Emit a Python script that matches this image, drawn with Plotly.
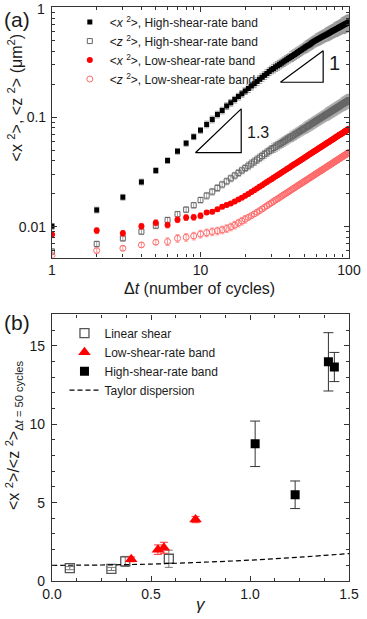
import plotly.graph_objects as go

# ---------------------------------------------------------------------
# Panel (a): mean square displacement vs lag time
# ---------------------------------------------------------------------
dt = list(range(1, 101))

high_x2 = [0.0101, 0.0142, 0.0186, 0.0256, 0.0325, 0.0401, 0.0488, 0.0577, 0.0662, 0.0757,
           0.0858, 0.0953, 0.1057, 0.115, 0.126, 0.1353, 0.1446, 0.154, 0.1634, 0.1729,
           0.1824, 0.192, 0.2016, 0.2113, 0.221, 0.2307, 0.2405, 0.2503, 0.2602, 0.2701,
           0.2782, 0.2863, 0.2943, 0.3023, 0.3103, 0.3183, 0.3262, 0.3341, 0.342, 0.3499,
           0.3578, 0.3656, 0.3735, 0.3813, 0.389, 0.3968, 0.4046, 0.4123, 0.42, 0.4277,
           0.4355, 0.4431, 0.4508, 0.4584, 0.466, 0.4737, 0.4812, 0.4888, 0.4964, 0.5039,
           0.5102, 0.5164, 0.5227, 0.5289, 0.5351, 0.5412, 0.5474, 0.5535, 0.5596, 0.5657,
           0.5717, 0.5777, 0.5838, 0.5897, 0.5957, 0.6017, 0.6076, 0.6135, 0.6193, 0.6252,
           0.6311, 0.6369, 0.6428, 0.6486, 0.6543, 0.6601, 0.6659, 0.6715, 0.6773, 0.683,
           0.6887, 0.6943, 0.7, 0.7056, 0.7112, 0.7168, 0.7224, 0.728, 0.7336, 0.7391]

high_z2 = [0.00593, 0.00695, 0.00783, 0.00901, 0.0102, 0.0115, 0.013, 0.0143, 0.0157, 0.0175,
           0.01919, 0.02088, 0.02257, 0.02426, 0.02593, 0.02761, 0.02928, 0.03095, 0.03262, 0.03428,
           0.03594, 0.0376, 0.03925, 0.04091, 0.04256, 0.04421, 0.04587, 0.04751, 0.04916, 0.0508,
           0.05225, 0.0537, 0.05514, 0.05658, 0.058, 0.05943, 0.06084, 0.06225, 0.06366, 0.06506,
           0.06646, 0.06785, 0.06924, 0.07062, 0.072, 0.07337, 0.07474, 0.07611, 0.07747, 0.07883,
           0.08018, 0.08152, 0.08287, 0.08422, 0.08555, 0.08689, 0.08822, 0.08955, 0.09088, 0.09221,
           0.09353, 0.09484, 0.09615, 0.09746, 0.09878, 0.10008, 0.10138, 0.10268, 0.10398, 0.10528,
           0.10656, 0.10785, 0.10913, 0.11042, 0.11171, 0.11299, 0.11426, 0.11553, 0.11681, 0.11808,
           0.11935, 0.12061, 0.12187, 0.12315, 0.12441, 0.12566, 0.12693, 0.12819, 0.12945, 0.13067,
           0.13192, 0.13317, 0.13441, 0.13566, 0.1369, 0.13813, 0.13935, 0.1406, 0.14184, 0.14306]

low_x2 = [0.00846, 0.0092, 0.00869, 0.0101, 0.01087, 0.01036, 0.01158, 0.0121, 0.0122, 0.0126,
          0.0135, 0.0137, 0.0144, 0.0152, 0.0158, 0.0163, 0.017, 0.0177, 0.0184, 0.0191,
          0.0199, 0.0207, 0.0215, 0.0223, 0.0231, 0.02391, 0.02472, 0.02552, 0.02632, 0.02712,
          0.02791, 0.0287, 0.02949, 0.03028, 0.03106, 0.03184, 0.03262, 0.03339, 0.03416, 0.03493,
          0.0357, 0.03647, 0.03723, 0.03799, 0.03875, 0.0395, 0.04026, 0.04101, 0.04176, 0.04251,
          0.04326, 0.044, 0.04475, 0.04549, 0.04623, 0.04697, 0.04771, 0.04844, 0.04918, 0.04991,
          0.05064, 0.05137, 0.0521, 0.05283, 0.05355, 0.05428, 0.055, 0.05572, 0.05644, 0.05716,
          0.05788, 0.0586, 0.05931, 0.06002, 0.06074, 0.06146, 0.06216, 0.06287, 0.06358, 0.06429,
          0.065, 0.0657, 0.0664, 0.06711, 0.06781, 0.06851, 0.06922, 0.06991, 0.07061, 0.07131,
          0.07201, 0.07271, 0.0734, 0.07409, 0.07478, 0.07548, 0.07617, 0.07686, 0.07755, 0.07823]

low_z2 = [0.00545, 0.00605, 0.00635, 0.00681, 0.00721, 0.00731, 0.00783, 0.008, 0.00822, 0.00857,
          0.0088, 0.009, 0.00915, 0.00935, 0.00962, 0.00995, 0.01035, 0.0108, 0.01125, 0.0117,
          0.01215, 0.0126, 0.01305, 0.01352, 0.014, 0.0145, 0.015, 0.0155, 0.016, 0.0165,
          0.01698, 0.01746, 0.01794, 0.01842, 0.0189, 0.01937, 0.01985, 0.02031, 0.02078, 0.02125,
          0.02172, 0.02219, 0.02265, 0.02311, 0.02358, 0.02403, 0.02449, 0.02495, 0.02541, 0.02586,
          0.02632, 0.02677, 0.02723, 0.02768, 0.02813, 0.02858, 0.02903, 0.02947, 0.02992, 0.03037,
          0.03081, 0.03125, 0.0317, 0.03214, 0.03258, 0.03302, 0.03346, 0.0339, 0.03434, 0.03478,
          0.03521, 0.03565, 0.03608, 0.03652, 0.03695, 0.03739, 0.03782, 0.03825, 0.03868, 0.03911,
          0.03955, 0.03997, 0.0404, 0.04083, 0.04126, 0.04168, 0.04211, 0.04253, 0.04296, 0.04339,
          0.04381, 0.04424, 0.04466, 0.04508, 0.0455, 0.04592, 0.04634, 0.04676, 0.04718, 0.0476]

# error bars, in percent of the value, per decade of points
high_x2_err_pct = [6] * 10 + [7] * 10 + [8] * 10 + [9] * 10 + [10] * 10 + [11] * 10 + [12] * 10 + [13] * 10 + [14] * 10 + [16] * 10
high_z2_err_pct = [6] * 10 + [7] * 10 + [8] * 10 + [9] * 10 + [10] * 10 + [11] * 20 + [12] * 20 + [13] * 10
low_x2_err_pct = [6] * 10 + [4] * 90
low_z2_err_pct = [5] * 5 + [8] * 15 + [5] * 80

# slope guide triangles (Δt, value)
slope1_x = [34.5, 67.0, 67.0, 34.5]
slope1_y = [0.208, 0.208, 0.404, 0.208]
slope13_x = [9.24, 18.8, 18.8, 9.24]
slope13_y = [0.0473, 0.0473, 0.119, 0.0473]

# ---------------------------------------------------------------------
# Panel (b): ratio <x²>/<z²> at Δt = 50 cycles vs strain amplitude
# ---------------------------------------------------------------------
linear_gamma = [0.09, 0.30, 0.37, 0.59]
linear_ratio = [0.82, 0.77, 1.25, 1.42]
linear_err = [0.1, 0.1, 0.32, 0.55]

low_gamma = [0.40, 0.535, 0.565, 0.725]
low_ratio = [1.38, 2.0, 2.12, 3.92]
low_err = [0.15, 0.3, 0.35, 0.2]

high_gamma = [1.026, 1.228, 1.396, 1.426]
high_ratio = [8.75, 5.5, 13.98, 13.65]
high_err = [1.45, 0.88, 1.86, 0.93]

taylor_gamma = [0.0, 0.25, 0.5, 0.75, 1.0, 1.25, 1.5]
taylor_ratio = [1.0, 1.02, 1.08, 1.19, 1.33, 1.52, 1.75]


def pct_err(values, pct):
    return [v * p / 100 for v, p in zip(values, pct)]


FONT = "Liberation Sans, Arial, sans-serif"
TXT = "#1a1a1a"

fig = go.Figure()

# ---------------------------------------------------------------------
# Panel (a) traces
# ---------------------------------------------------------------------
fig.add_trace(go.Scatter(
    x=dt, y=high_x2, mode="markers", xaxis="x", yaxis="y", legend="legend",
    name="&lt;<i>x</i> <sup>2</sup>&gt;, High-shear-rate band",
    marker=dict(symbol="square", size=5, color="black"),
    error_y=dict(type="data", array=pct_err(high_x2, high_x2_err_pct),
                 color="#9a9a9a", thickness=1, width=2.5)))
fig.add_trace(go.Scatter(
    x=dt, y=high_z2, mode="markers", xaxis="x", yaxis="y", legend="legend",
    name="&lt;<i>z</i> <sup>2</sup>&gt;, High-shear-rate band",
    marker=dict(symbol="square-open", size=5, color="#666666", line=dict(width=1)),
    error_y=dict(type="data", array=pct_err(high_z2, high_z2_err_pct),
                 color="#a8a8a8", thickness=1, width=2.5)))
fig.add_trace(go.Scatter(
    x=dt, y=low_x2, mode="markers", xaxis="x", yaxis="y", legend="legend",
    name="&lt;<i>x</i> <sup>2</sup>&gt;, Low-shear-rate band",
    marker=dict(symbol="circle", size=6, color="#ff0000"),
    error_y=dict(type="data", array=pct_err(low_x2, low_x2_err_pct),
                 color="#ff5050", thickness=1, width=2)))
fig.add_trace(go.Scatter(
    x=dt, y=low_z2, mode="markers", xaxis="x", yaxis="y", legend="legend",
    name="&lt;<i>z</i> <sup>2</sup>&gt;, Low-shear-rate band",
    marker=dict(symbol="circle-open", size=6, color="#ff6a6a", line=dict(width=1)),
    error_y=dict(type="data", array=pct_err(low_z2, low_z2_err_pct),
                 color="#ff9a9a", thickness=1, width=2)))

for tx, ty in [(slope1_x, slope1_y), (slope13_x, slope13_y)]:
    fig.add_trace(go.Scatter(x=tx, y=ty, mode="lines", xaxis="x", yaxis="y",
                             line=dict(color="black", width=1.2),
                             showlegend=False, hoverinfo="skip"))

# ---------------------------------------------------------------------
# Panel (b) traces
# ---------------------------------------------------------------------
fig.add_trace(go.Scatter(
    x=linear_gamma, y=linear_ratio, mode="markers", xaxis="x2", yaxis="y2", legend="legend2",
    name="Linear shear",
    marker=dict(symbol="square-open", size=9, color="#555555", line=dict(width=1.3)),
    error_y=dict(type="data", array=linear_err, color="#777777", thickness=1, width=4)))
fig.add_trace(go.Scatter(
    x=low_gamma, y=low_ratio, mode="markers", xaxis="x2", yaxis="y2", legend="legend2",
    name="Low-shear-rate band",
    marker=dict(symbol="triangle-up", size=11, color="#ff0000"),
    error_y=dict(type="data", array=low_err, color="#ff3030", thickness=1, width=4)))
fig.add_trace(go.Scatter(
    x=high_gamma, y=high_ratio, mode="markers", xaxis="x2", yaxis="y2", legend="legend2",
    name="High-shear-rate band",
    marker=dict(symbol="square", size=9, color="black"),
    error_y=dict(type="data", array=high_err, color="#333333", thickness=1, width=5)))
fig.add_trace(go.Scatter(
    x=taylor_gamma, y=taylor_ratio, mode="lines", xaxis="x2", yaxis="y2", legend="legend2",
    name="Taylor dispersion", line=dict(color="black", width=1.2, dash="5px,3px", shape="spline")))

# ---------------------------------------------------------------------
# Layout
# ---------------------------------------------------------------------
axis_style = dict(showline=True, linecolor="#333333", linewidth=1.2, mirror="allticks",
                  ticks="inside", ticklen=5, tickcolor="#333333", showgrid=False,
                  zeroline=False, tickfont=dict(size=14, color=TXT, family=FONT))

fig.update_layout(
    width=367, height=619,
    margin=dict(l=52, r=12, t=6, b=38),
    paper_bgcolor="white", plot_bgcolor="white",
    font=dict(family=FONT, color=TXT),
    xaxis=dict(axis_style, type="log", range=[0, 2], dtick=1, anchor="y",
               minor=dict(ticks="inside", ticklen=3, dtick="D1", tickcolor="#333333")),
    yaxis=dict(axis_style, type="log", range=[-2.282, 0.005], dtick=1, domain=[0.5635, 1], anchor="x",
               ticklabelstandoff=2,
               minor=dict(ticks="inside", ticklen=3, dtick="D1", tickcolor="#333333")),
    xaxis2=dict(axis_style, range=[0, 1.5], dtick=0.5, tickformat=".1f", anchor="y2",
                minor=dict(ticks="inside", ticklen=3, dtick=0.125, tickcolor="#333333")),
    yaxis2=dict(axis_style, range=[0, 17], dtick=5, domain=[0, 0.4643], anchor="x2",
                ticklabelstandoff=3,
                minor=dict(ticks="inside", ticklen=3, dtick=1, tickcolor="#333333")),
    legend=dict(x=0.06, y=0.999, xanchor="left", yanchor="top", bgcolor="rgba(0,0,0,0)",
                font=dict(size=12, family=FONT, color=TXT), itemwidth=30),
    legend2=dict(x=0.042, y=0.457, xanchor="left", yanchor="top", bgcolor="rgba(0,0,0,0)",
                 font=dict(size=12, family=FONT, color=TXT), itemwidth=30),
    showlegend=True,
)

annotations = [
    dict(text="(a)", x=-0.118, y=0.979, font=dict(size=21)),
    dict(text="(b)", x=-0.118, y=0.4504, font=dict(size=21)),
    # top tick label of panel (a), kept inside the page edge
    dict(text="1", x=-0.016, y=0.9957, xanchor="right", font=dict(size=14)),
    dict(text="&lt;x <sup>2</sup>&gt;, &lt;z <sup>2</sup>&gt; (μm<sup>2</sup>)",
         x=-0.1254, y=0.842, textangle=-90, font=dict(size=16)),
    dict(text="Δ<i>t</i> (number of cycles)", x=0.495, y=0.5096, font=dict(size=16)),
    dict(text="&lt;x <sup>2</sup>&gt;/&lt;z <sup>2</sup>&gt;<sub>Δ<i>t</i> = 50 cycles</sub>",
         x=-0.1287, y=0.254, textangle=-90, font=dict(size=16)),
    dict(text="<i>γ</i>", x=0.5, y=-0.0417, font=dict(size=17)),
]
for a in annotations:
    a.setdefault("xanchor", "center")
    fig.add_annotation(xref="paper", yref="paper", showarrow=False,
                       yanchor="middle", **a)

# slope labels, placed in log10 data units of panel (a)
fig.add_annotation(xref="x", yref="y", x=1.901, y=-0.509, text="1", showarrow=False,
                   font=dict(size=20))
fig.add_annotation(xref="x", yref="y", x=1.386, y=-1.136, text="1.3", showarrow=False,
                   font=dict(size=16))

# the page's default body margin would shift the figure by 8 px
fig.write_html("out.html", config={"displayModeBar": False},
               post_script="document.body.style.margin = '0';")
